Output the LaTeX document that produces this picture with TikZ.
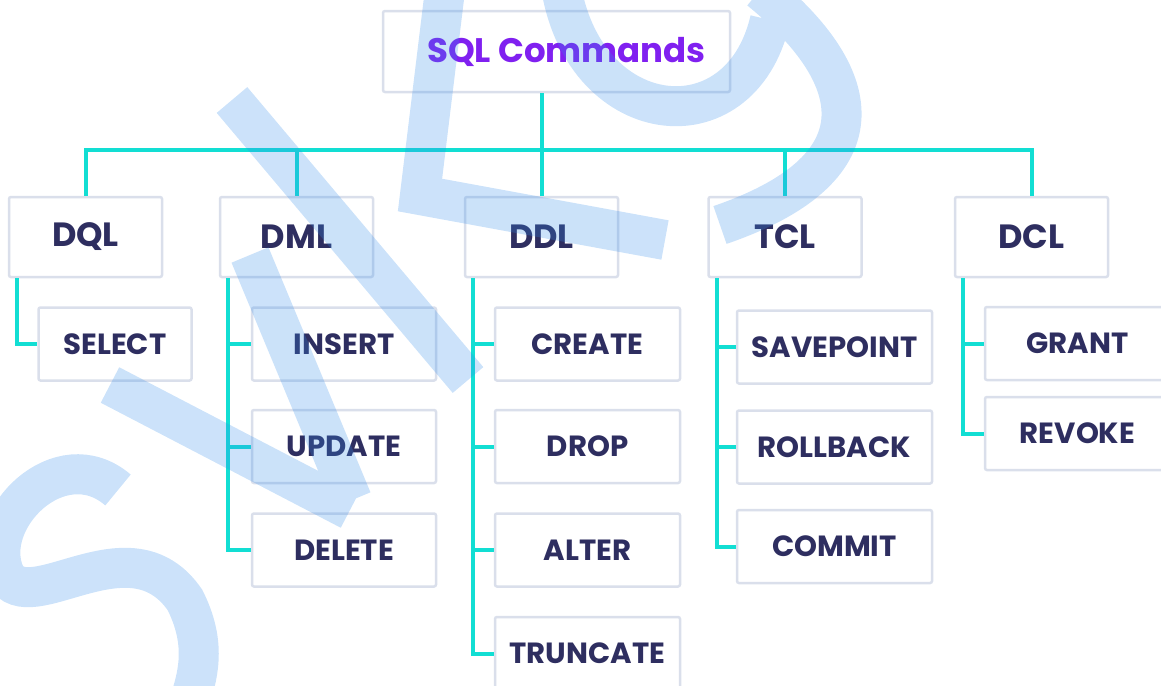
\documentclass[tikz,border=0pt]{standalone}
\usepackage{fontspec}
\setmainfont{Poppins}
\definecolor{navy}{RGB}{46,46,96}
\definecolor{headviolet}{RGB}{128,32,240}
\definecolor{linkcyan}{RGB}{18,222,211}
\definecolor{boxedge}{RGB}{218,223,235}
\definecolor{wmblue}{RGB}{50,140,235}

\begin{document}
\begin{tikzpicture}[x=0.5pt, y=-0.5pt,
  head/.style={draw=boxedge, line width=1.25pt, rounded corners=1pt, fill=white,
    minimum width=173.5pt, minimum height=40.5pt, text=headviolet,
    font=\bfseries\fontsize{17}{20}\selectfont},
  cat/.style={draw=boxedge, line width=1.25pt, rounded corners=1pt, fill=white,
    minimum width=76.5pt, minimum height=40pt, text=navy,
    font=\bfseries\fontsize{16.8}{18}\selectfont},
  cmd/.style={cat, minimum height=36.5pt, font=\bfseries\fontsize{14.6}{16}\selectfont},
  link/.style={draw=linkcyan, line width=2pt},
  wmark/.style={draw=wmblue, opacity=0.25, line width=20pt}]
  \useasboundingbox (0,0) rectangle (1161,685);
  \clip (0,0) rectangle (1161,685);

  \node[head] (root) at (556.5,51.5) {\hspace*{10pt}SQL Commands};

  % categories
  \node[cat] (dql) at (85.5,237)   {DQL};
  \node[cat] (dml) at (296.5,237)  {DML};
  \node[cat] (ddl) at (541.5,237)  {DDL};
  \node[cat] (tcl) at (785,237)    {TCL};
  \node[cat] (dcl) at (1031.5,237) {DCL};

  % commands
  \node[cmd] (select) at (115,344) {SELECT};
  \node[cmd, minimum width=92pt] (insert) at (344,344)   {INSERT};
  \node[cmd, minimum width=92pt] (update) at (344,446.5) {UPDATE};
  \node[cmd, minimum width=92pt] (delete) at (344,550)   {DELETE};
  \node[cmd, minimum width=92.5pt] (create)   at (587.5,344)   {CREATE};
  \node[cmd, minimum width=92.5pt] (drop)     at (587.5,446.5) {DROP};
  \node[cmd, minimum width=92.5pt] (alter)    at (587.5,550)   {ALTER};
  \node[cmd, minimum width=92.5pt] (truncate) at (587.5,653.5) {TRUNCATE};
  \node[cmd, minimum width=97.5pt] (savepoint) at (834.5,347)   {SAVEPOINT};
  \node[cmd, minimum width=97.5pt] (rollback)  at (834.5,447)   {ROLLBACK};
  \node[cmd, minimum width=97.5pt] (commit)    at (834.5,546.5) {COMMIT};
  \node[cmd, minimum width=92.5pt] (grant)  at (1077.5,343.5) {GRANT};
  \node[cmd, minimum width=92.5pt] (revoke) at (1077.5,433.5) {REVOKE};

  % top level links
  \coordinate (bus) at (543,150);
  \draw[link] (root.south -| ddl.north) -- (ddl.north);
  \draw[link] (dql.north) |- (bus) -| (dcl.north);
  \draw[link] (dml.north) -- (dml.north |- bus);
  \draw[link] (tcl.north) -- (tcl.north |- bus);

  % branch links
  \draw[link] ([xshift=4.75pt]dql.south west) |- (select.west);
  \foreach \c in {insert,update,delete}
    \draw[link] ([xshift=4.75pt]dml.south west) |- (\c.west);
  \foreach \c in {create,drop,alter,truncate}
    \draw[link] ([xshift=4.75pt]ddl.south west) |- (\c.west);
  \foreach \c in {savepoint,rollback,commit}
    \draw[link] ([xshift=4.75pt]tcl.south west) |- (\c.west);
  \foreach \c in {grant,revoke}
    \draw[link] ([xshift=4.75pt]dcl.south west) |- (\c.west);

  % watermark
  \draw[wmark]
    (445,-10) -- (420,195) -- (665,240)
    (232,100) -- (468,380)
    (250,255) -- (352,500)
    (110,385) -- (350,510)
    (118,490) .. controls (60,440) and (-20,520) .. (5,575)
      .. controls (30,620) and (130,520) .. (185,600)
      .. controls (205,640) and (200,670) .. (190,700)
    (560,-20) .. controls (580,130) and (740,150) .. (770,20)
    (760,-10) .. controls (870,80) and (880,170) .. (720,225);
\end{tikzpicture}
\end{document}
